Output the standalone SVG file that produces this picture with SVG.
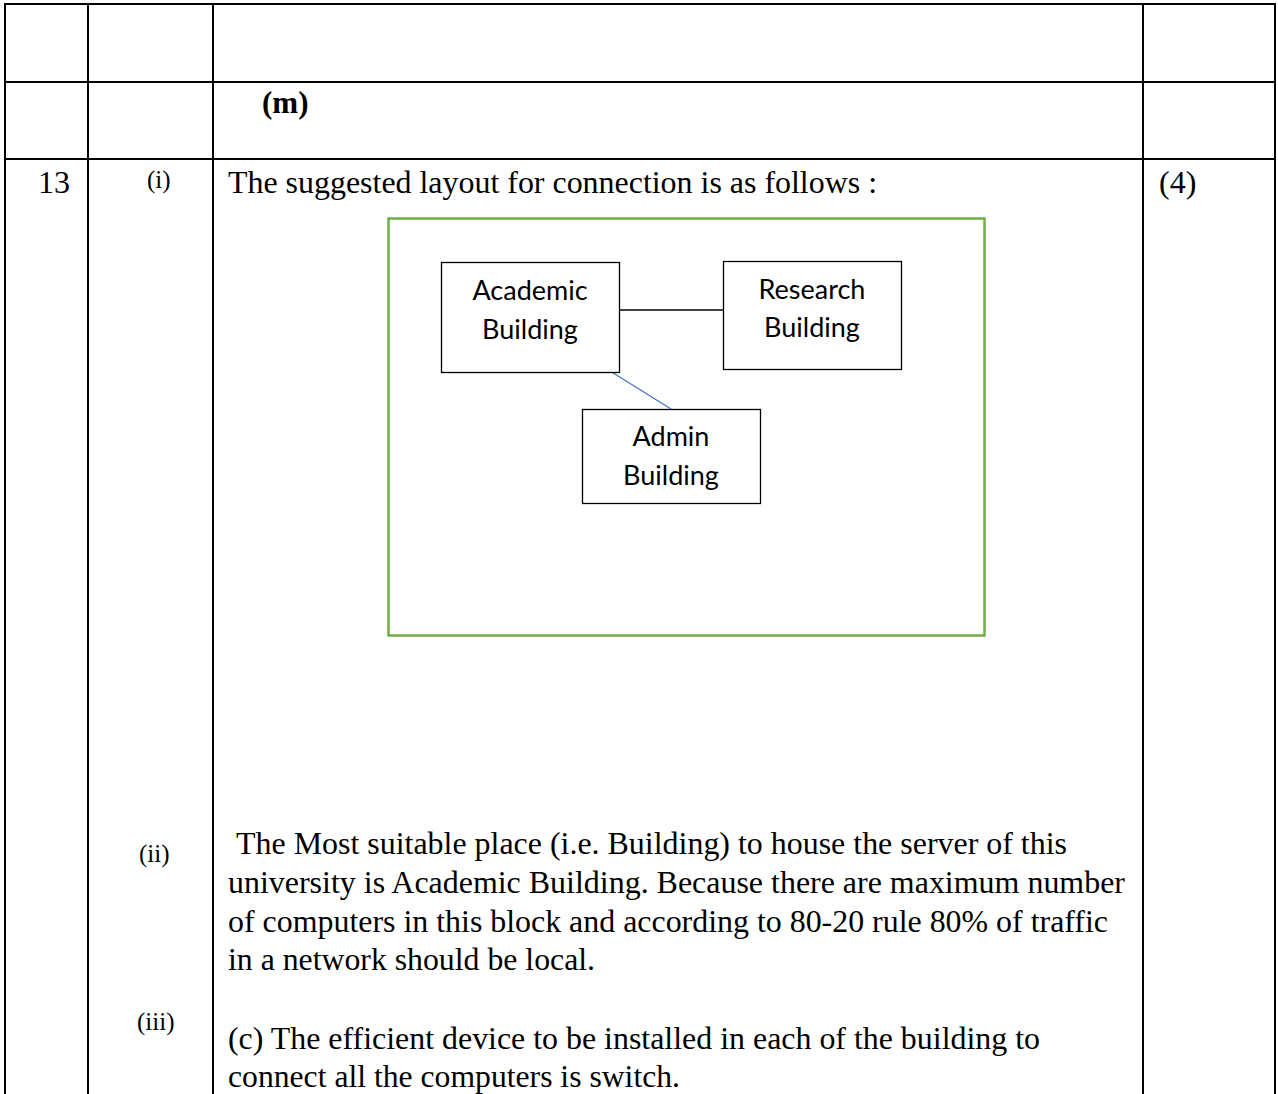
<svg xmlns="http://www.w3.org/2000/svg" width="1278" height="1094" viewBox="0 0 1278 1094">
  <style>
    .grid { stroke: #000; stroke-width: 2; fill: none; }
    .serif { font-family: "Liberation Serif", "Times New Roman", serif; fill: #000; }
    .body { font-size: 32px; }
    .small { font-size: 25px; }
    .node rect { fill: #fff; stroke: #000; stroke-width: 1.3; }
    .node text { font-family: Lato, "Open Sans", "Liberation Sans", sans-serif; font-size: 27px; fill: #000; text-anchor: middle; }
  </style>
  <rect width="1278" height="1094" fill="#fff"/>

  <!-- table rules -->
  <g class="grid">
    <line x1="5" y1="4" x2="1276" y2="4"/>
    <line x1="5" y1="82" x2="1276" y2="82"/>
    <line x1="5" y1="159" x2="1276" y2="159"/>
    <line x1="5" y1="3" x2="5" y2="1094"/>
    <line x1="88" y1="3" x2="88" y2="1094"/>
    <line x1="213" y1="3" x2="213" y2="1094"/>
    <line x1="1143" y1="3" x2="1143" y2="1094"/>
    <line x1="1275" y1="3" x2="1275" y2="1094"/>
  </g>

  <!-- table text -->
  <text class="serif" font-size="31" x="262" y="113" font-weight="bold">(m)</text>
  <text class="serif body" x="38" y="193">13</text>
  <text class="serif small" x="147" y="188">(i)</text>
  <text class="serif body" x="228" y="193" textLength="649" lengthAdjust="spacingAndGlyphs">The suggested layout for connection is as follows :</text>
  <text class="serif body" x="1159" y="193">(4)</text>

  <!-- layout frame -->
  <rect x="388.5" y="218.5" width="596" height="417" fill="none" stroke="#70ad47" stroke-width="2.5"/>

  <!-- connectors -->
  <g id="connectors">
    <line x1="620" y1="310" x2="723" y2="310" stroke="#000" stroke-width="1.3"/>
    <line x1="610" y1="371" x2="671" y2="409" stroke="#4472c4" stroke-width="1.3"/>
  </g>

  <g id="academic" class="node">
    <rect x="441.5" y="262.5" width="178" height="110"/>
    <text x="530" y="300">Academic</text>
    <text x="530" y="339">Building</text>
  </g>
  <g id="research" class="node">
    <rect x="723.5" y="261.5" width="178" height="108"/>
    <text x="812" y="299">Research</text>
    <text x="812" y="337">Building</text>
  </g>
  <g id="admin" class="node">
    <rect x="582.5" y="409.5" width="178" height="94"/>
    <text x="671" y="446">Admin</text>
    <text x="671" y="485">Building</text>
  </g>

  <!-- answers (ii) and (iii) -->
  <text class="serif small" x="139" y="862">(ii)</text>
  <text class="serif body" x="236" y="854" textLength="831" lengthAdjust="spacingAndGlyphs">The Most suitable place (i.e. Building) to house the server of this</text>
  <text class="serif body" x="228" y="893" textLength="897" lengthAdjust="spacingAndGlyphs">university is Academic Building. Because there are maximum number</text>
  <text class="serif body" x="228" y="932" textLength="880" lengthAdjust="spacingAndGlyphs">of computers in this block and according to 80-20 rule 80% of traffic</text>
  <text class="serif body" x="228" y="970" textLength="367" lengthAdjust="spacingAndGlyphs">in a network should be local.</text>

  <text class="serif small" x="137" y="1030">(iii)</text>
  <text class="serif body" x="228" y="1049" textLength="812" lengthAdjust="spacingAndGlyphs">(c) The efficient device to be installed in each of the building to</text>
  <text class="serif body" x="228" y="1087" textLength="452" lengthAdjust="spacingAndGlyphs">connect all the computers is switch.</text>
</svg>
